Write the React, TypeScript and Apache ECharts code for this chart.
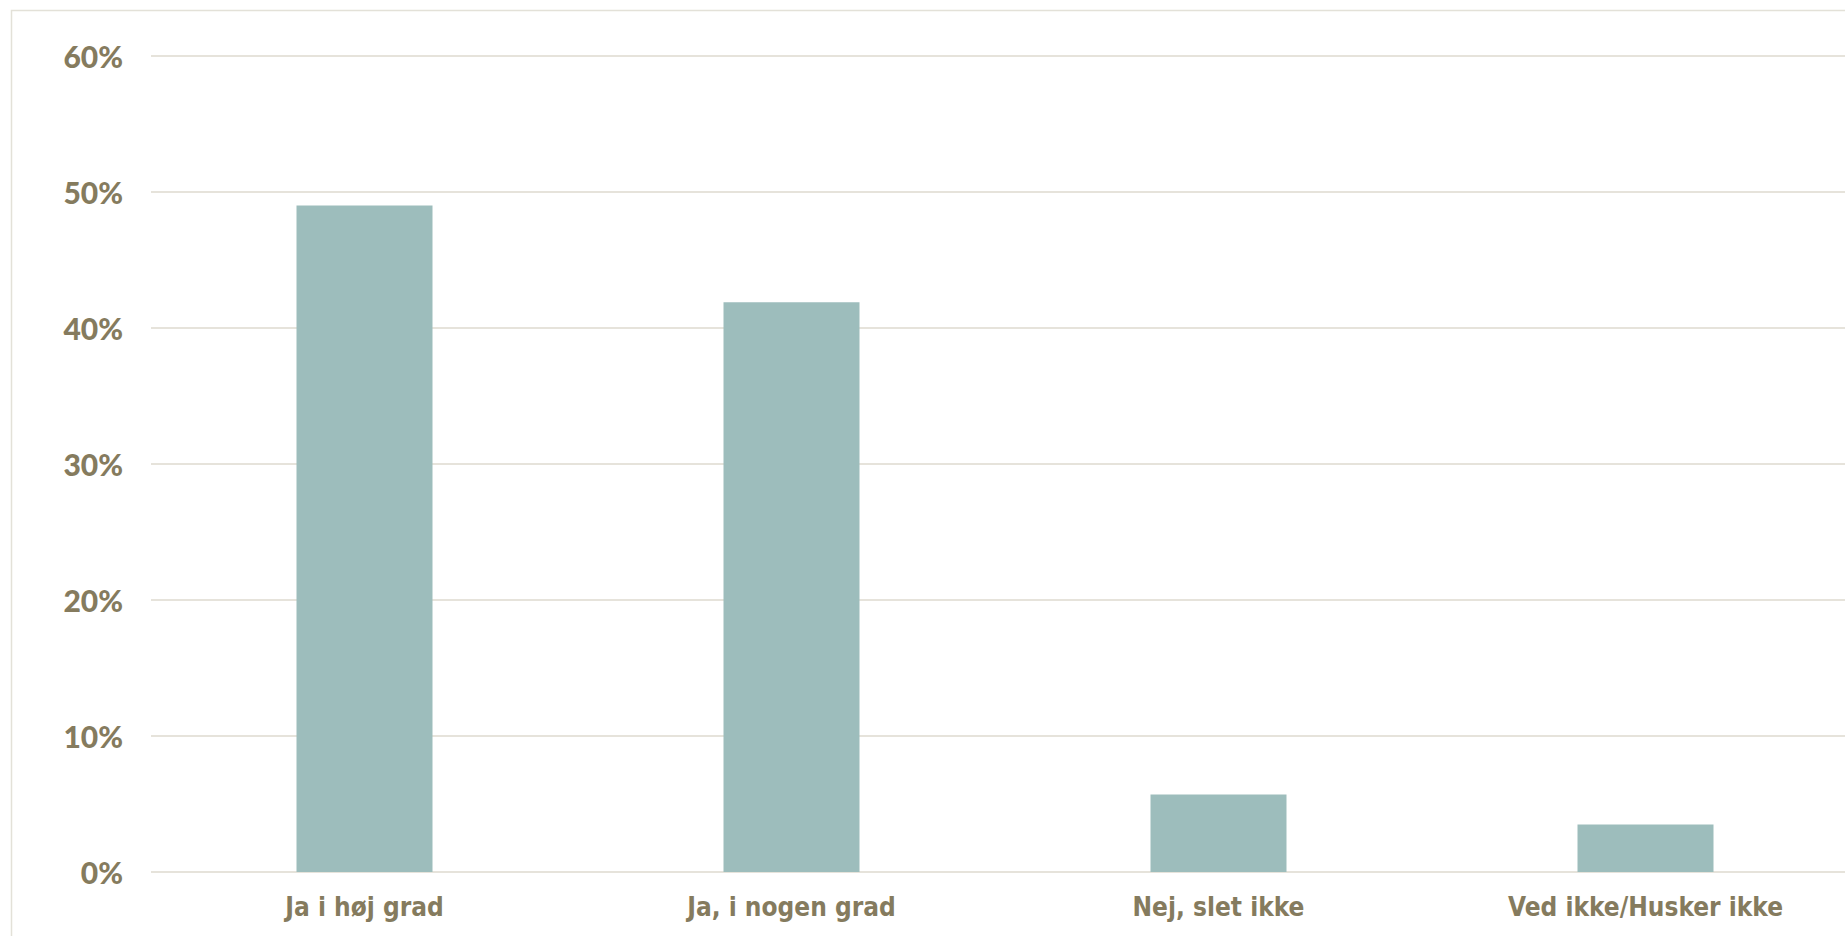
import React, { useEffect, useRef } from "react";
import * as echarts from "echarts";

const categories = ["Ja i høj grad", "Ja, i nogen grad", "Nej, slet ikke", "Ved ikke/Husker ikke"];
const values = [49.0, 41.9, 5.7, 3.5];
const yTicks = [0, 10, 20, 30, 40, 50, 60];

export default function App() {
  const ref = useRef<HTMLDivElement>(null);
  useEffect(() => {
    if (!ref.current) return;
    const chart = echarts.init(ref.current, undefined, { renderer: "svg" });
    chart.setOption({
      animation: false,
      backgroundColor: "#ffffff",
      graphic: [
        {
          type: "rect",
          shape: { x: 11.5, y: 10.5, width: 2400, height: 2400 },
          style: { fill: "none", stroke: "#E3E1D8", lineWidth: 1.5 },
          silent: true,
        },
      ],
      grid: { left: 151, top: 56, width: 1708, height: 816 },
      xAxis: {
        type: "category",
        data: categories,
        axisLine: { show: false },
        axisTick: { show: false },
        axisLabel: {
          margin: 22,
          color: "#857B5E",
          fontFamily: "'DejaVu Sans Condensed', 'Liberation Sans Narrow', sans-serif",
          fontWeight: "bold",
          fontSize: 26,
        },
      },
      yAxis: {
        type: "value",
        min: yTicks[0],
        max: yTicks[yTicks.length - 1],
        interval: 10,
        axisLine: { show: false },
        axisTick: { show: false },
        splitLine: { lineStyle: { color: "#E6E3DB", width: 2 } },
        axisLabel: {
          margin: 28,
          color: "#857B5E",
          fontFamily: "Lato, 'Open Sans', sans-serif",
          fontWeight: 900,
          fontSize: 30,
          formatter: (v: number) => `${v}%`,
        },
      },
      series: [
        {
          type: "bar",
          data: values,
          barWidth: 136,
          itemStyle: { color: "#9DBDBC" },
        },
      ],
    });
    return () => chart.dispose();
  }, []);
  return (
    <div style={{ position: "fixed", left: 0, top: 0, width: 1845, height: 936, overflow: "hidden", background: "#fff" }}>
      <div ref={ref} style={{ width: 1900, height: 960 }} />
    </div>
  );
}
